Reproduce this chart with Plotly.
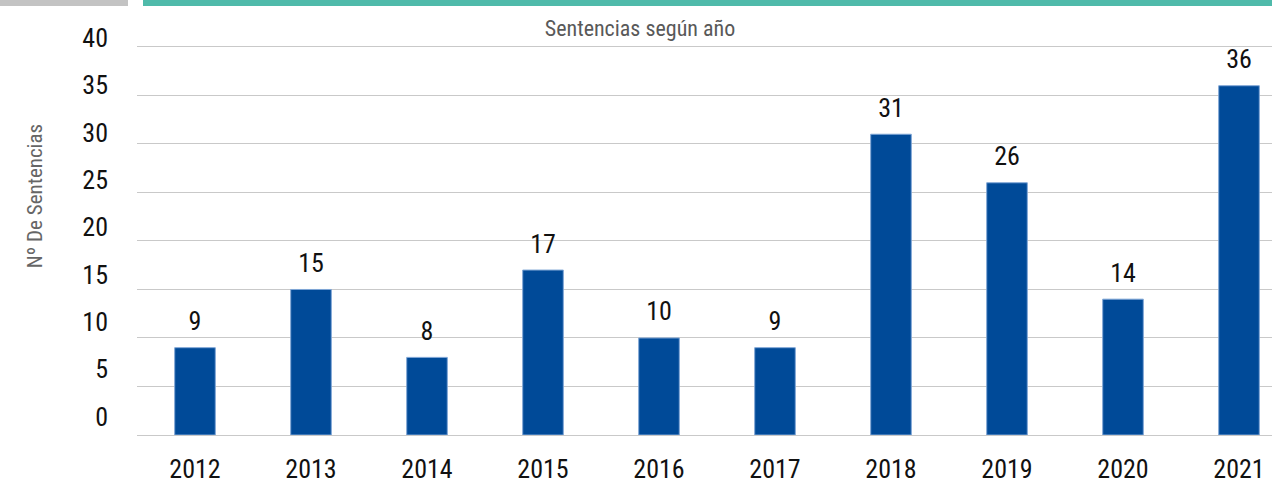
import plotly.graph_objects as go

years = ["2012", "2013", "2014", "2015", "2016", "2017", "2018", "2019", "2020", "2021"]
sentencias = [9, 15, 8, 17, 10, 9, 31, 26, 14, 36]
y_ticks = [0, 5, 10, 15, 20, 25, 30, 35, 40]

FONT = "Roboto Condensed, DejaVu Sans Condensed, sans-serif"
W, H = 1272, 484
L, R, T, B = 137, 0, 30, 47
plot_w = W - L - R
plot_h = H - T - B

fig = go.Figure()
fig.add_trace(go.Bar(
    x=years, y=sentencias,
    marker=dict(color="#004A98", line=dict(color="#7FA6D6", width=1)),
    hoverinfo="skip",
))
# value labels above the bars
fig.add_trace(go.Scatter(
    x=years, y=sentencias, mode="markers+text",
    text=[str(v) for v in sentencias],
    textposition="top center",
    textfont=dict(family=FONT, size=26, color="#111111"),
    marker=dict(size=16, opacity=0),
    cliponaxis=False, showlegend=False, hoverinfo="skip",
))
# invisible trace carrying the label axis
fig.add_trace(go.Scatter(
    x=years, y=sentencias, yaxis="y2", mode="markers",
    marker=dict(opacity=0), showlegend=False, hoverinfo="skip",
))

px_per_unit = 9.75
y_top = (H - B - T) / px_per_unit
lab_ppu = 9.5125
lab_zero = 418.5  # pixel of label "0"
y2_lo = -((H - B) - lab_zero) / lab_ppu
y2_hi = (lab_zero - T) / lab_ppu

fig.update_layout(
    width=W, height=H,
    margin=dict(l=L, r=R, t=T, b=B),
    paper_bgcolor="white", plot_bgcolor="white",
    showlegend=False,
    bargap=0.65,
    title=dict(
        text="Sentencias según año",
        x=640 / W, xref="container", xanchor="center",
        y=1 - 28 / H, yref="container", yanchor="middle",
        font=dict(family=FONT, size=22, color="#595959"),
    ),
    xaxis=dict(
        type="category",
        range=[-0.5, -0.5 + plot_w / 116.0],
        showgrid=False, zeroline=False,
        showline=False,
        ticks="",
        tickfont=dict(family=FONT, size=26, color="#111111"),
        ticklabelstandoff=16,
    ),
    yaxis=dict(
        range=[0, y_top],
        tickvals=y_ticks,
        showticklabels=False,
        showgrid=True, gridcolor="#C9C9C9", gridwidth=1,
        zeroline=True, zerolinecolor="#C9C9C9", zerolinewidth=1,
        showline=False, ticks="",
    ),
    yaxis2=dict(
        overlaying="y", side="left",
        range=[y2_lo, y2_hi],
        tickvals=y_ticks,
        showgrid=False, zeroline=False, showline=False, ticks="",
        tickfont=dict(family=FONT, size=26, color="#111111"),
        ticklabelstandoff=28,
    ),
    annotations=[dict(
        text="Nº De Sentencias",
        xref="paper", yref="paper",
        x=(35 - L) / plot_w, y=((H - B) - 197) / plot_h,
        xanchor="center", yanchor="middle",
        textangle=-90, showarrow=False,
        font=dict(family=FONT, size=21, color="#666666"),
    )],
    shapes=[
        dict(type="rect", xref="paper", yref="paper",
             x0=(0 - L) / plot_w, x1=(128 - L) / plot_w,
             y0=((H - B) - 6) / plot_h, y1=((H - B) + 2) / plot_h,
             fillcolor="#C3C3C3", line=dict(width=0), layer="above"),
        dict(type="rect", xref="paper", yref="paper",
             x0=(143 - L) / plot_w, x1=(W + 2 - L) / plot_w,
             y0=((H - B) - 6) / plot_h, y1=((H - B) + 2) / plot_h,
             fillcolor="#4FBAAA", line=dict(width=0), layer="above"),
    ],
)

fig.write_html("out.html", config={"displayModeBar": False},
               post_script="document.body.style.margin='0';")
